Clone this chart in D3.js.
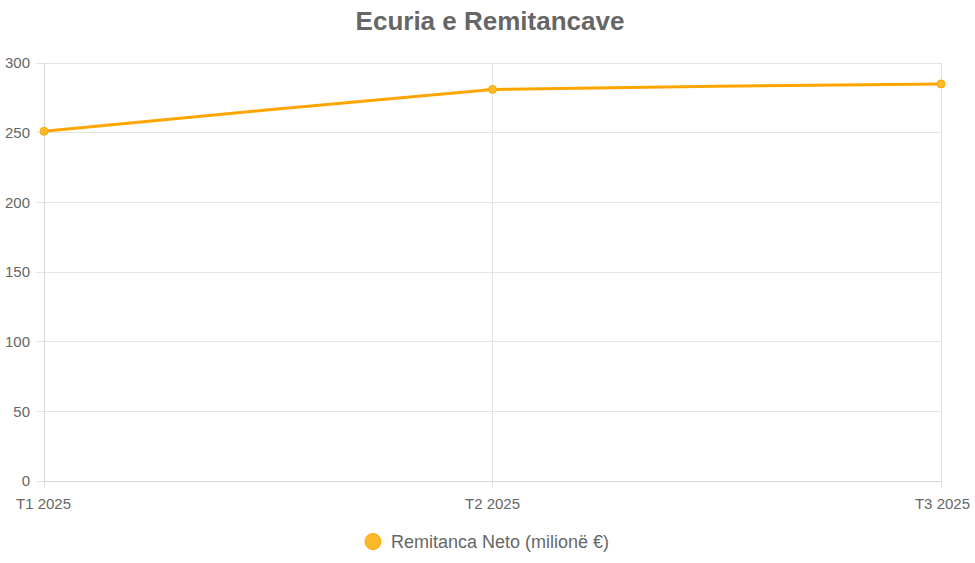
<!DOCTYPE html>
<html><head><meta charset="utf-8">
<script src="https://cdn.jsdelivr.net/npm/d3@7"></script>
<style>body{margin:0;background:#fff;}svg{display:block;font-family:"Liberation Sans",Arial,sans-serif;}</style>
</head><body>
<svg id="c" width="975" height="563"></svg>
<script>
const categories = ["T1 2025", "T2 2025", "T3 2025"];
const values = [251, 281, 285];
const yTicks = [0, 50, 100, 150, 200, 250, 300];
const seriesName = "Remitanca Neto (milionë €)";
const title = "Ecuria e Remitancave";

const svg = d3.select("#c");
const m = {l:44, r:941, t:63, b:481};
const x = d3.scalePoint().domain(categories).range([m.l, m.r]);
const y = d3.scaleLinear().domain([0, 300]).range([m.b, m.t]);
const grid = "#e4e4e4", txt = "#666";

// horizontal grid
svg.append("g").selectAll("line").data(yTicks).join("line")
  .attr("x1", m.l - 8).attr("x2", m.r).attr("y1", d => y(d)).attr("y2", d => y(d))
  .attr("stroke", grid).attr("stroke-width", 1).attr("shape-rendering","crispEdges");
// vertical grid
svg.append("g").selectAll("line").data(categories).join("line")
  .attr("x1", d => x(d)).attr("x2", d => x(d)).attr("y1", m.t).attr("y2", m.b + 7)
  .attr("stroke", grid).attr("stroke-width", 1).attr("shape-rendering","crispEdges");
// axis lines slightly darker
svg.append("line").attr("x1", m.l).attr("x2", m.r).attr("y1", m.b).attr("y2", m.b)
  .attr("stroke", "#d6d6d6").attr("shape-rendering","crispEdges");
svg.append("line").attr("x1", m.l).attr("x2", m.l).attr("y1", m.t).attr("y2", m.b)
  .attr("stroke", "#d6d6d6").attr("shape-rendering","crispEdges");

// y labels
svg.append("g").selectAll("text").data(yTicks).join("text")
  .attr("x", m.l - 14).attr("y", d => y(d)).attr("dy", "0.35em")
  .attr("text-anchor", "end").attr("fill", txt).attr("font-size", 15).text(d => d);
// x labels
svg.append("g").selectAll("text").data(categories).join("text")
  .attr("x", d => x(d)).attr("y", 509)
  .attr("text-anchor", (d,i) => i === categories.length - 1 ? "end" : (i === 0 ? "start" : "middle"))
  .attr("dx", (d,i) => i === 0 ? -28 : (i === categories.length - 1 ? 29 : 0))
  .attr("fill", txt).attr("font-size", 15).text(d => d);

// line
const line = d3.line().x((d,i) => x(categories[i])).y(d => y(d)).curve(d3.curveCardinal.tension(0.8));
svg.append("path").datum(values).attr("d", line)
  .attr("fill", "none").attr("stroke", "#FFA500").attr("stroke-width", 3);
svg.append("g").selectAll("circle").data(values).join("circle")
  .attr("cx", (d,i) => x(categories[i])).attr("cy", d => y(d)).attr("r", 4)
  .attr("fill", "#FCBA2A").attr("stroke", "#FFA500").attr("stroke-width", 1);

// title
svg.append("text").attr("x", 490).attr("y", 30).attr("text-anchor", "middle")
  .attr("font-size", 26).attr("font-weight", "bold").attr("fill", txt).text(title);

// legend
svg.append("circle").attr("cx", 373).attr("cy", 541.5).attr("r", 8)
  .attr("fill", "#FCBA2A").attr("stroke", "#FFA500").attr("stroke-width", 1);
svg.append("text").attr("x", 391).attr("y", 541.5).attr("dy", "0.35em")
  .attr("font-size", 18).attr("fill", txt).text(seriesName);
</script>
</body></html>
